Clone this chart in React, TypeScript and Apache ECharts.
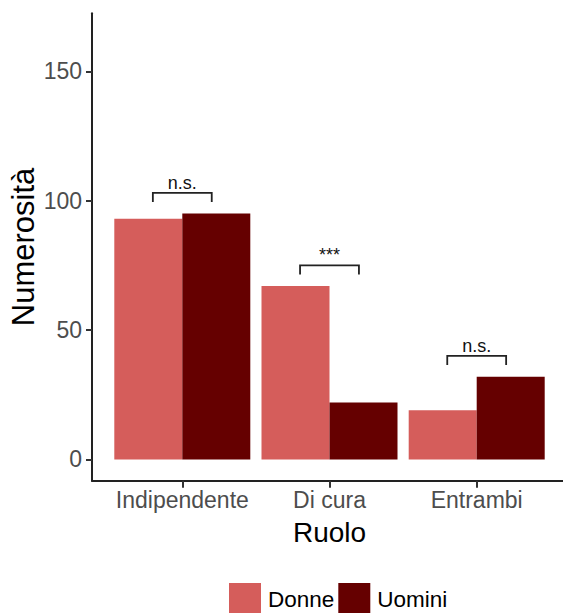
import React, { useEffect, useRef } from "react";
import * as echarts from "echarts";

const categories = ["Indipendente", "Di cura", "Entrambi"];
const donne = [93, 67, 19];
const uomini = [95, 22, 32];
const bracketY = [103, 75, 40];
const bracketLabels = ["n.s.", "***", "n.s."];
const yTicks = [0, 50, 100, 150];
const seriesNames = ["Donne", "Uomini"];

const FONT = "'Liberation Sans', Arial, sans-serif";

export default function App() {
  const ref = useRef<HTMLDivElement>(null);
  useEffect(() => {
    if (!ref.current) return;
    const chart = echarts.init(ref.current, undefined, { renderer: "svg" });
    const gridTop = 13.3;
    const gridBottom = 613 - 480.7;
    const yMin = -8.2;
    const yMax = 172.4;
    chart.setOption({
      animation: false,
      textStyle: { fontFamily: FONT },
      grid: [
        { left: 92, right: 0, top: gridTop, bottom: gridBottom, outerBoundsMode: "none", containLabel: false },
        { left: 108.7, right: 12.7, top: gridTop, bottom: gridBottom, outerBoundsMode: "none", containLabel: false },
      ],
      xAxis: [
        {
          type: "value",
          gridIndex: 0,
          min: 0,
          max: 1,
          position: "bottom",
          axisLine: { show: true, onZero: false, lineStyle: { color: "#222", width: 2 } },
          axisTick: { show: false },
          axisLabel: { show: false },
          splitLine: { show: false },
        },
        {
          type: "category",
          gridIndex: 1,
          data: categories,
          position: "bottom",
          axisLine: { show: false, onZero: false },
          axisTick: { show: true, alignWithLabel: true, length: 7, lineStyle: { color: "#333", width: 2 } },
          axisLabel: { interval: 0, hideOverlap: false, fontSize: 23, color: "#4d4d4d", margin: 8, fontFamily: FONT },
          name: "Ruolo",
          nameLocation: "middle",
          nameGap: 38,
          nameMoveOverlap: false,
          nameTextStyle: { fontSize: 28, color: "#000", fontFamily: FONT },
        },
      ],
      yAxis: [
        {
          type: "value",
          gridIndex: 0,
          min: yMin,
          max: yMax,
          position: "left",
          axisLine: { show: true, onZero: false, lineStyle: { color: "#222", width: 2 } },
          axisTick: { show: true, length: 6, customValues: yTicks, lineStyle: { color: "#333", width: 2 } },
          axisLabel: { customValues: yTicks, fontSize: 23, color: "#4d4d4d", margin: 10, fontFamily: FONT },
          splitLine: { show: false },
          name: "Numerosità",
          nameLocation: "middle",
          nameRotate: 90,
          nameGap: 53,
          nameMoveOverlap: false,
          nameTextStyle: { fontSize: 31, color: "#000", fontFamily: FONT },
        },
        {
          type: "value",
          gridIndex: 1,
          min: yMin,
          max: yMax,
          show: false,
          splitLine: { show: false },
        },
      ],
      legend: {
        data: seriesNames,
        left: 229,
        top: 583,
        padding: 0,
        itemWidth: 32,
        itemHeight: 32,
        itemGap: 4,
        icon: "rect",
        textStyle: { fontSize: 22.5, color: "#000", fontFamily: FONT, padding: [0, 0, 0, 2] },
      },
      series: [
        {
          name: seriesNames[0],
          type: "bar",
          xAxisIndex: 1,
          yAxisIndex: 1,
          data: donne,
          barWidth: 68,
          barGap: "0%",
          itemStyle: { color: "#D55D5B" },
        },
        {
          name: seriesNames[1],
          type: "bar",
          xAxisIndex: 1,
          yAxisIndex: 1,
          data: uomini,
          barWidth: 68,
          barGap: "0%",
          itemStyle: { color: "#650000" },
        },
        {
          type: "custom",
          xAxisIndex: 1,
          yAxisIndex: 1,
          clip: false,
          data: bracketY.map((y, i) => [i, y]),
          renderItem: (params: any, api: any) => {
            const i = api.value(0);
            const y = api.value(1);
            const top = api.coord([i, y]);
            const bot = api.coord([i, y - 3.5]);
            const w = api.size([1, 0])[0];
            const half = 0.2 * w;
            const cx = top[0];
            return {
              type: "group",
              children: [
                {
                  type: "polyline",
                  shape: {
                    points: [
                      [cx - half, bot[1]],
                      [cx - half, top[1]],
                      [cx + half, top[1]],
                      [cx + half, bot[1]],
                    ],
                  },
                  style: { stroke: "#222", lineWidth: 1.8, fill: null },
                },
                {
                  type: "text",
                  style: {
                    text: bracketLabels[params.dataIndex],
                    x: cx,
                    y: top[1] - 1,
                    align: "center",
                    verticalAlign: "bottom",
                    fontSize: 18,
                    fontFamily: FONT,
                    fill: "#111",
                  },
                },
              ],
            };
          },
        },
      ],
    });
    return () => chart.dispose();
  }, []);
  return (
    <div
      ref={ref}
      style={{ position: "absolute", left: 0, top: 0, width: 563, height: 613 }}
    />
  );
}
